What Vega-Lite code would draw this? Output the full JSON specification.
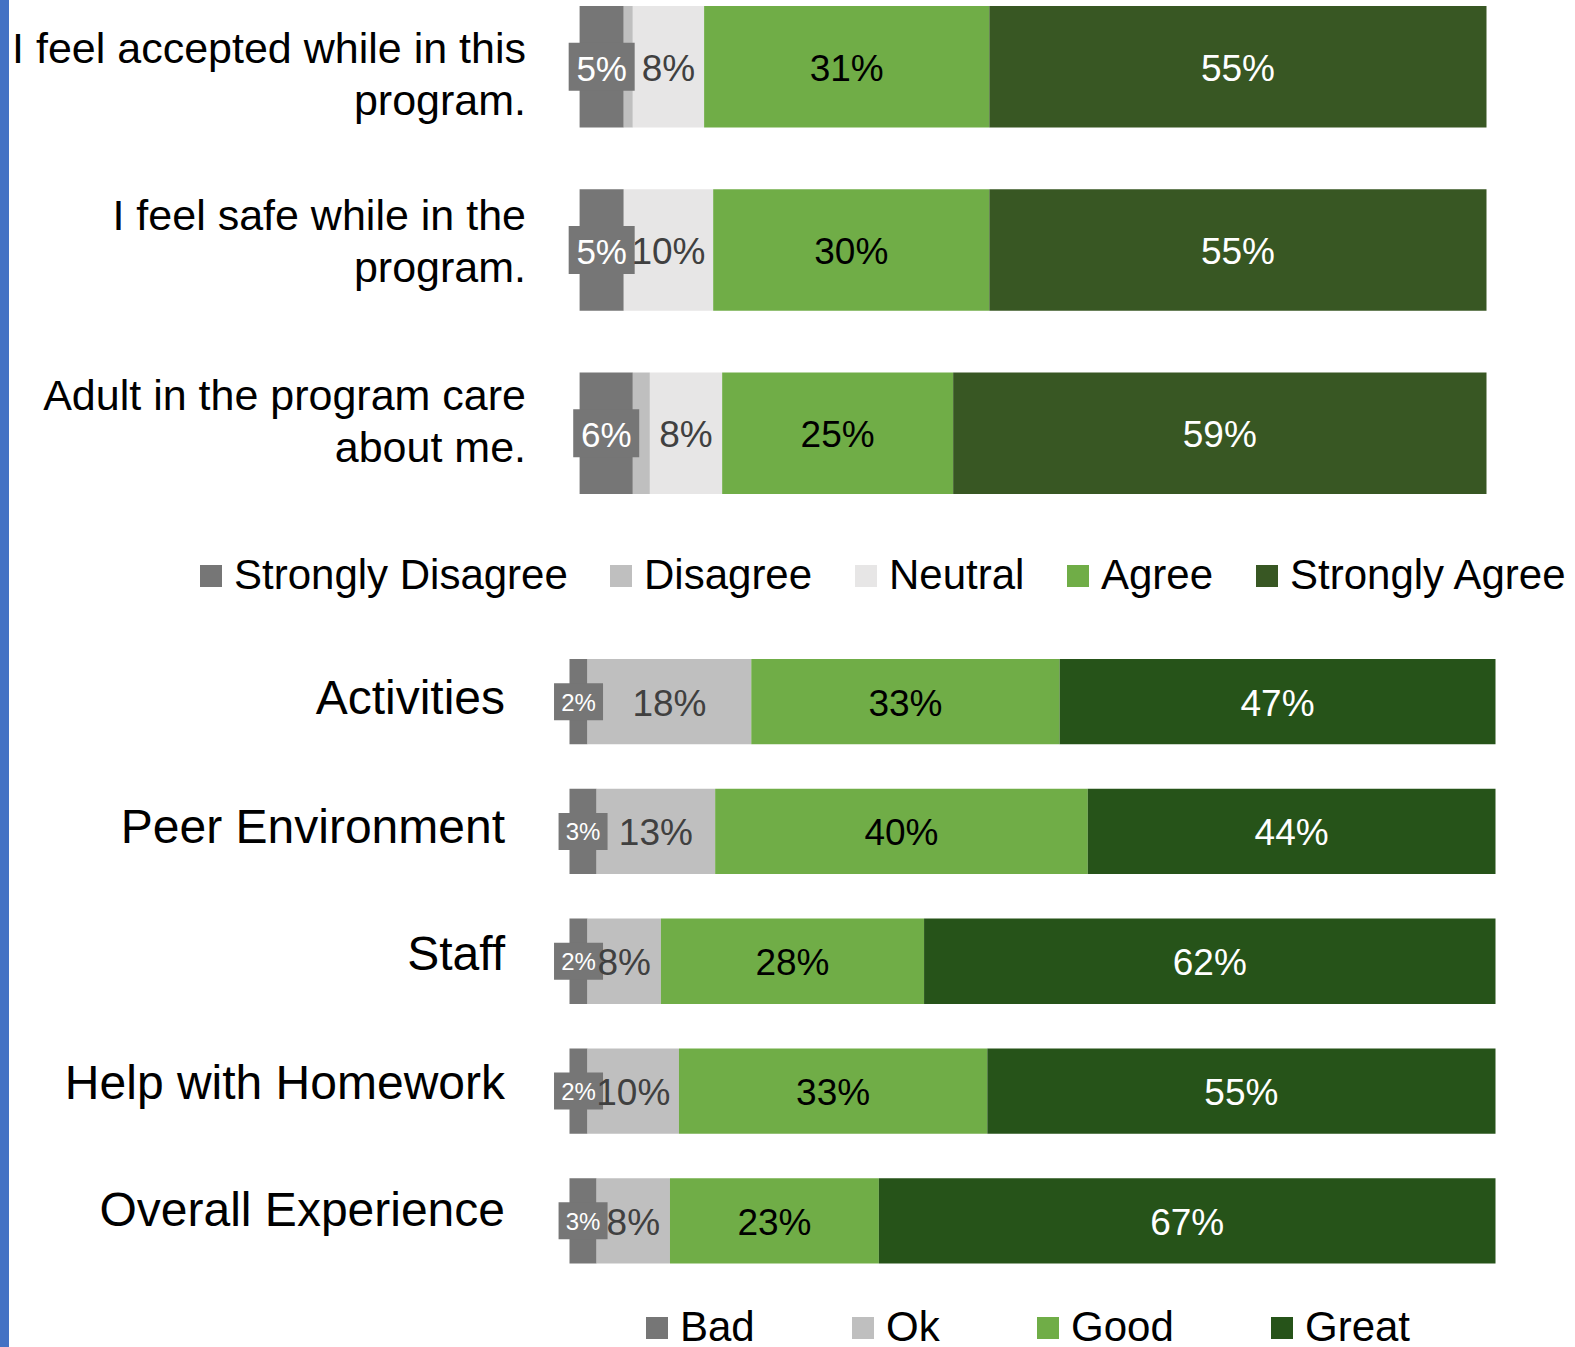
{
  "$schema": "https://vega.github.io/schema/vega-lite/v6.json",
  "padding": 0,
  "background": "white",
  "config": {
    "view": {"stroke": null},
    "font": "Liberation Sans",
    "text": {"font": "Liberation Sans"},
    "axis": {"labelFont": "Liberation Sans"},
    "legend": {"labelFont": "Liberation Sans"}
  },
  "datasets": {
    "top": [
      {"item": "I feel accepted while in this program.", "response": "Strongly Disagree", "pct": 0.0487},
      {"item": "I feel accepted while in this program.", "response": "Disagree", "pct": 0.0100},
      {"item": "I feel accepted while in this program.", "response": "Neutral", "pct": 0.0786},
      {"item": "I feel accepted while in this program.", "response": "Agree", "pct": 0.3145},
      {"item": "I feel accepted while in this program.", "response": "Strongly Agree", "pct": 0.5482},
      {"item": "I feel safe while in the program.", "response": "Strongly Disagree", "pct": 0.0487},
      {"item": "I feel safe while in the program.", "response": "Disagree", "pct": 0.0},
      {"item": "I feel safe while in the program.", "response": "Neutral", "pct": 0.0986},
      {"item": "I feel safe while in the program.", "response": "Agree", "pct": 0.3045},
      {"item": "I feel safe while in the program.", "response": "Strongly Agree", "pct": 0.5482},
      {"item": "Adult in the program care about me.", "response": "Strongly Disagree", "pct": 0.0587},
      {"item": "Adult in the program care about me.", "response": "Disagree", "pct": 0.0188},
      {"item": "Adult in the program care about me.", "response": "Neutral", "pct": 0.0797},
      {"item": "Adult in the program care about me.", "response": "Agree", "pct": 0.2547},
      {"item": "Adult in the program care about me.", "response": "Strongly Agree", "pct": 0.5881}
    ],
    "bottom": [
      {"item": "Activities", "rating": "Bad", "pct": 0.0195},
      {"item": "Activities", "rating": "Ok", "pct": 0.1768},
      {"item": "Activities", "rating": "Good", "pct": 0.3330},
      {"item": "Activities", "rating": "Great", "pct": 0.4707},
      {"item": "Peer Environment", "rating": "Bad", "pct": 0.0293},
      {"item": "Peer Environment", "rating": "Ok", "pct": 0.1280},
      {"item": "Peer Environment", "rating": "Good", "pct": 0.4024},
      {"item": "Peer Environment", "rating": "Great", "pct": 0.4403},
      {"item": "Staff", "rating": "Bad", "pct": 0.0195},
      {"item": "Staff", "rating": "Ok", "pct": 0.0792},
      {"item": "Staff", "rating": "Good", "pct": 0.2842},
      {"item": "Staff", "rating": "Great", "pct": 0.6171},
      {"item": "Help with Homework", "rating": "Bad", "pct": 0.0195},
      {"item": "Help with Homework", "rating": "Ok", "pct": 0.0987},
      {"item": "Help with Homework", "rating": "Good", "pct": 0.3330},
      {"item": "Help with Homework", "rating": "Great", "pct": 0.5488},
      {"item": "Overall Experience", "rating": "Bad", "pct": 0.0293},
      {"item": "Overall Experience", "rating": "Ok", "pct": 0.0792},
      {"item": "Overall Experience", "rating": "Good", "pct": 0.2256},
      {"item": "Overall Experience", "rating": "Great", "pct": 0.6659}
    ]
  },
  "spacing": 2.5,
  "hconcat": [
    {
      "width": 9,
      "height": 1347,
      "data": {"values": [{}]},
      "view": {"fill": "#4472C4", "stroke": null},
      "mark": {"type": "point", "opacity": 0},
      "encoding": {}
    },
    {
      "vconcat": [
        {
          "width": 917,
          "height": 500,
          "data": {"name": "top"},
          "transform": [
            {"calculate": "indexof(['Strongly Disagree','Disagree','Neutral','Agree','Strongly Agree'], datum.response)", "as": "k"},
            {"stack": "pct", "groupby": ["item"], "sort": [{"field": "k", "order": "ascending"}], "as": ["x0", "x1"]},
            {"calculate": "(datum.x0 + datum.x1) / 2", "as": "xm"}
          ],
          "encoding": {
            "y": {
              "field": "item",
              "type": "nominal",
              "sort": ["I feel accepted while in this program.", "I feel safe while in the program.", "Adult in the program care about me."],
              "scale": {"paddingInner": 0.337, "paddingOuter": 0.033},
              "axis": {
                "title": null,
                "domain": false,
                "ticks": false,
                "labelFontSize": 43,
                "labelColor": "black",
                "labelPadding": 44,
                "labelLimit": 0,
                "labelLineHeight": 52,
                "labelOffset": {
                  "condition": [
                    {"test": "datum.value == 'I feel safe while in the program.'", "value": -33.5},
                    {"test": "datum.value == 'Adult in the program care about me.'", "value": -36.5}
                  ],
                  "value": -17
                },
                "labelExpr": "datum.value == 'Adult in the program care about me.' ? ['Adult in the program care', 'about me.'] : [replace(datum.value, ' program.', ''), 'program.']"
              }
            }
          },
          "layer": [
            {
              "mark": {"type": "bar"},
              "encoding": {
                "x": {"field": "x0", "type": "quantitative", "scale": {"domain": [-0.01113, 1], "nice": false, "zero": false}, "axis": null},
                "x2": {"field": "x1"},
                "color": {
                  "field": "response",
                  "type": "nominal",
                  "scale": {
                    "domain": ["Strongly Disagree", "Disagree", "Neutral", "Agree", "Strongly Agree"],
                    "range": ["#767676", "#BFBFBF", "#E7E6E6", "#70AD47", "#385723"]
                  },
                  "legend": {
                    "orient": "none",
                    "legendX": -379.5,
                    "legendY": 555,
                    "direction": "horizontal",
                    "title": null,
                    "symbolType": "square",
                    "symbolSize": 484,
                    "symbolStrokeWidth": 0,
                    "symbolOpacity": 1,
                    "labelFontSize": 42,
                    "labelColor": "black",
                    "labelLimit": 0,
                    "labelOffset": 2,
                    "columnPadding": 32,
                    "padding": 0
                  }
                }
              }
            },
            {
              "transform": [{"filter": "datum.response == 'Strongly Disagree'"}],
              "mark": {"type": "point", "shape": "M-1,-0.727L1,-0.727L1,0.727L-1,0.727Z", "size": 4356, "filled": true, "color": "#767676", "opacity": 1, "strokeWidth": 0},
              "encoding": {"x": {"field": "xm", "type": "quantitative"}}
            },
            {
              "transform": [{"filter": "datum.response == 'Strongly Disagree'"}],
              "mark": {"type": "text", "fontSize": 35, "baseline": "middle", "align": "center", "dy": 3, "color": "white"},
              "encoding": {
                "x": {"field": "xm", "type": "quantitative"},
                "text": {"field": "pct", "type": "quantitative", "format": ".0%"}
              }
            },
            {
              "transform": [{"filter": "datum.response != 'Disagree' && datum.response != 'Strongly Disagree'"}],
              "mark": {"type": "text", "fontSize": 37, "baseline": "middle", "align": "center", "dy": 3},
              "encoding": {
                "x": {"field": "xm", "type": "quantitative"},
                "text": {"field": "pct", "type": "quantitative", "format": ".0%"},
                "color": {
                  "condition": [
                    {"test": "datum.response == 'Strongly Agree'", "value": "white"},
                    {"test": "datum.response == 'Agree'", "value": "black"}
                  ],
                  "value": "#404040"
                }
              }
            }
          ]
        },
        {
          "width": 926,
          "height": 604.5,
          "data": {"name": "bottom"},
          "transform": [
            {"calculate": "indexof(['Bad','Ok','Good','Great'], datum.rating)", "as": "k"},
            {"stack": "pct", "groupby": ["item"], "sort": [{"field": "k", "order": "ascending"}], "as": ["x0", "x1"]},
            {"calculate": "(datum.x0 + datum.x1) / 2", "as": "xm"}
          ],
          "encoding": {
            "y": {
              "field": "item",
              "type": "nominal",
              "sort": ["Activities", "Peer Environment", "Staff", "Help with Homework", "Overall Experience"],
              "scale": {"paddingInner": 0.343, "paddingOuter": 0},
              "axis": {
                "title": null,
                "domain": false,
                "ticks": false,
                "labelFontSize": 48,
                "labelColor": "black",
                "labelPadding": 65,
                "labelLimit": 0,
                "labelOffset": {
                  "condition": [
                    {"test": "datum.value == 'Activities'", "value": -2},
                    {"test": "datum.value == 'Peer Environment'", "value": -2},
                    {"test": "datum.value == 'Staff'", "value": -5},
                    {"test": "datum.value == 'Help with Homework'", "value": -6.5}
                  ],
                  "value": -9
                }
              }
            }
          },
          "layer": [
            {
              "mark": {"type": "bar"},
              "encoding": {
                "x": {"field": "x0", "type": "quantitative", "scale": {"domain": [0, 1], "nice": false}, "axis": null},
                "x2": {"field": "x1"},
                "color": {
                  "field": "rating",
                  "type": "nominal",
                  "scale": {
                    "domain": ["Bad", "Ok", "Good", "Great"],
                    "range": ["#767676", "#BFBFBF", "#70AD47", "#265319"]
                  },
                  "legend": {
                    "orient": "none",
                    "legendX": 66.5,
                    "legendY": 648,
                    "direction": "horizontal",
                    "title": null,
                    "symbolType": "square",
                    "symbolSize": 484,
                    "symbolStrokeWidth": 0,
                    "symbolOpacity": 1,
                    "labelFontSize": 42,
                    "labelColor": "black",
                    "labelLimit": 0,
                    "labelOffset": 2,
                    "columnPadding": 87,
                    "padding": 0
                  }
                }
              }
            },
            {
              "transform": [{"filter": "datum.rating == 'Bad'"}],
              "mark": {"type": "point", "shape": "M-1,-0.755L1,-0.755L1,0.755L-1,0.755Z", "size": 2401, "filled": true, "color": "#767676", "opacity": 1, "strokeWidth": 0},
              "encoding": {"x": {"field": "xm", "type": "quantitative"}}
            },
            {
              "transform": [{"filter": "datum.rating == 'Bad'"}],
              "mark": {"type": "text", "fontSize": 24, "baseline": "middle", "align": "center", "color": "white", "dy": 2},
              "encoding": {
                "x": {"field": "xm", "type": "quantitative"},
                "text": {"field": "pct", "type": "quantitative", "format": ".0%"}
              }
            },
            {
              "transform": [{"filter": "datum.rating != 'Bad'"}],
              "mark": {"type": "text", "fontSize": 37, "baseline": "middle", "align": "center", "dy": 3},
              "encoding": {
                "x": {"field": "xm", "type": "quantitative"},
                "text": {"field": "pct", "type": "quantitative", "format": ".0%"},
                "color": {
                  "condition": [
                    {"test": "datum.rating == 'Great'", "value": "white"},
                    {"test": "datum.rating == 'Good'", "value": "black"}
                  ],
                  "value": "#404040"
                }
              }
            }
          ]
        }
      ],
      "spacing": 159,
      "bounds": "flush",
      "resolve": {
        "scale": {"color": "independent", "x": "independent", "y": "independent"},
        "legend": {"color": "independent"}
      }
    }
  ]
}
